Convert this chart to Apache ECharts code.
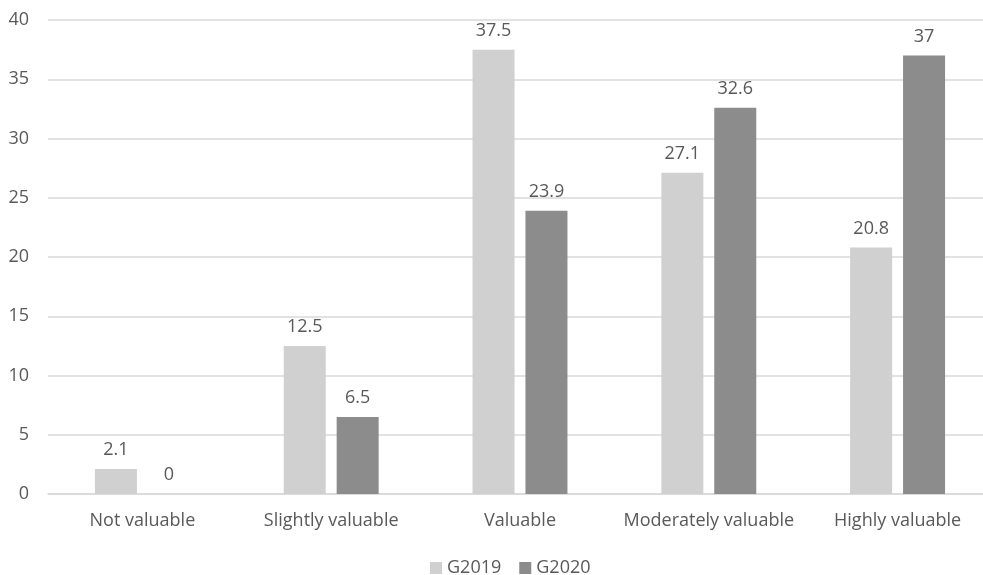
<!DOCTYPE html>
<html>
<head>
<meta charset="utf-8">
<script src="https://cdn.jsdelivr.net/npm/echarts@6/dist/echarts.min.js"></script>
<style>
  html, body { margin: 0; padding: 0; background: #fff; }
  #chart { width: 983px; height: 575px; }
</style>
</head>
<body>
<div id="chart"></div>
<script>
const categories = ['Not valuable', 'Slightly valuable', 'Valuable', 'Moderately valuable', 'Highly valuable'];
const g2019 = [2.1, 12.5, 37.5, 27.1, 20.8];
const g2020 = [0, 6.5, 23.9, 32.6, 37];
const yTicks = { min: 0, max: 40, interval: 5 };

const font = 'Open Sans';
const textColor = '#595959';

const chart = echarts.init(document.getElementById('chart'));
const labelStyle = {
  show: true,
  position: 'top',
  distance: 10,
  fontFamily: font,
  fontSize: 18,
  color: textColor
};

chart.setOption({
  animation: false,
  grid: { left: 48, top: 20, width: 944, bottom: 81, outerBoundsMode: 'none', containLabel: false },
  legend: {
    top: 554,
    left: 425,
    itemWidth: 12,
    itemHeight: 12,
    itemGap: 18,
    icon: 'rect',
    textStyle: { fontFamily: font, fontSize: 18, color: textColor },
    data: ['G2019', 'G2020']
  },
  xAxis: {
    type: 'category',
    data: categories,
    axisLine: { lineStyle: { color: '#d9d9d9', width: 1.5 } },
    axisTick: { show: false },
    axisLabel: { interval: 0, fontFamily: font, fontSize: 18, color: textColor, margin: 18 }
  },
  yAxis: {
    type: 'value',
    min: yTicks.min,
    max: yTicks.max,
    interval: yTicks.interval,
    axisLine: { show: false },
    axisTick: { show: false },
    axisLabel: { fontFamily: font, fontSize: 18, color: textColor, margin: 19 },
    splitLine: { lineStyle: { color: '#d9d9d9', width: 1.5 } }
  },
  series: [
    {
      name: 'G2019',
      type: 'bar',
      data: g2019,
      barWidth: 42,
      barGap: '26%',
      itemStyle: { color: '#d0d0d0' },
      label: labelStyle
    },
    {
      name: 'G2020',
      type: 'bar',
      data: g2020,
      barWidth: 42,
      barGap: '26%',
      itemStyle: { color: '#8c8c8c' },
      label: labelStyle
    }
  ]
});
</script>
</body>
</html>
